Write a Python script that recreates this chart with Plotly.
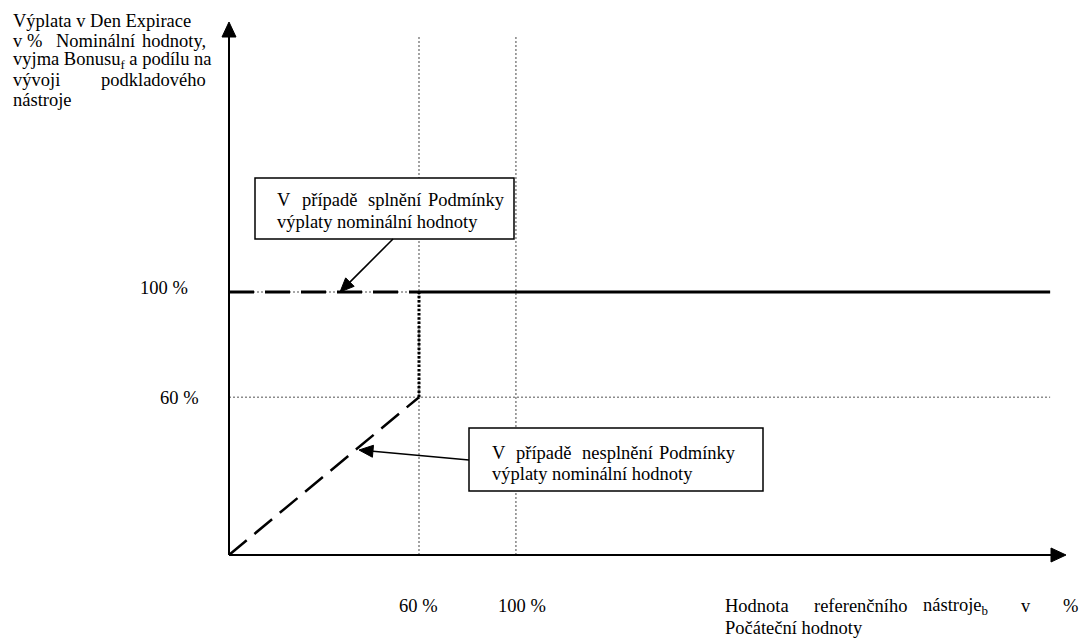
import math
import plotly.graph_objects as go

# ---- data (schematic units: x = position on underlying axis, y = payout in %) ----
y_levels = [60, 100]
y_tick_labels = ["60 %", "100 %"]
x_tick_pos = [60, 90.6]
x_tick_labels = ["60 %", "100 %"]

met_x = [0, 60]            # condition met: payout 100 % (dashed)
met_y = [100, 100]
flat_x = [60, 259.3]       # payout 100 % continuation (solid)
flat_y = [100, 100]
jump_x = [60, 60]          # jump from 60 % to 100 % (dotted)
jump_y = [60, 100]
notmet_x = [0, 60]         # condition not met: payout follows underlying (dashed)
notmet_y = [0, 60]

# ---- layout geometry (page pixels; the page body has an 8px margin) ----
PAGE_W, PAGE_H = 1091, 641
BODY = 8
W, H = PAGE_W - BODY, PAGE_H - BODY
OX, OY = 229, 555
SX = 190 / 60.0
SY = 263 / 100.0
FONT = "Liberation Serif"
FS = 18.5


def dx(px):
    return (px - OX) / SX


def dy(py):
    return (OY - py) / SY


fig = go.Figure()

grid = dict(color="#8c8c8c", width=1.6, dash="2px,2px")
top_grid = dy(35)
for xp in x_tick_pos:
    fig.add_trace(go.Scatter(x=[xp, xp], y=[0, top_grid], mode="lines", line=grid,
                             hoverinfo="skip", showlegend=False))
for yl in y_levels:
    fig.add_trace(go.Scatter(x=[0, flat_x[1]], y=[yl, yl], mode="lines", line=grid,
                             hoverinfo="skip", showlegend=False))

fig.add_trace(go.Scatter(x=met_x, y=met_y, mode="lines",
                         line=dict(color="black", width=3, dash="25px,11px"),
                         showlegend=False))
fig.add_trace(go.Scatter(x=flat_x, y=flat_y, mode="lines",
                         line=dict(color="black", width=3), showlegend=False))
fig.add_trace(go.Scatter(x=jump_x, y=jump_y, mode="lines",
                         line=dict(color="black", width=3, dash="2.5px,1.8px"),
                         showlegend=False))
fig.add_trace(go.Scatter(x=notmet_x, y=notmet_y, mode="lines",
                         line=dict(color="black", width=2.5, dash="23px,10px"),
                         showlegend=False))

shapes = []


def arrow(x0, y0, x1, y1, length=14, half=6, width=1.6):
    ang = math.atan2(y1 - y0, x1 - x0)
    bx, by = x1 - length * math.cos(ang), y1 - length * math.sin(ang)
    px, py = -math.sin(ang) * half, math.cos(ang) * half
    shapes.append(dict(type="line", x0=dx(x0), y0=dy(y0), x1=dx(bx), y1=dy(by),
                       line=dict(color="black", width=width)))
    shapes.append(dict(type="path",
                       path=(f"M {dx(bx + px)},{dy(by + py)} L {dx(bx - px)},{dy(by - py)} "
                             f"L {dx(x1)},{dy(y1)} Z"),
                       fillcolor="black", line=dict(color="black", width=1)))


# axes with arrowheads
arrow(OX, OY, OX, 22, length=15, half=7, width=2)
arrow(OX, OY, 1066, OY, length=15, half=7, width=2)

# boxes
shapes.append(dict(type="rect", x0=dx(255), y0=dy(178), x1=dx(514), y1=dy(239),
                   line=dict(color="black", width=1.5), fillcolor="white"))
shapes.append(dict(type="rect", x0=dx(469), y0=dy(428), x1=dx(763), y1=dy(491),
                   line=dict(color="black", width=1.5), fillcolor="white"))

# arrows from boxes to lines
arrow(393, 239, 340, 292)
arrow(469, 460, 359, 450)

ann = []


def txt(t, px, py, anchor="left"):
    ann.append(dict(text=t, x=dx(px), y=dy(py), xref="x", yref="y", showarrow=False,
                    xanchor=anchor, yanchor="middle",
                    font=dict(family=FONT, size=FS, color="black")))


# y axis title (justified lines split into pieces)
txt("Výplata v Den Expirace", 11, 21)
txt("v %", 11, 41)
txt("Nominální", 54, 41)
txt("hodnoty,", 208, 41, "right")
txt("vyjma Bonusu<sub>f</sub> a podílu na", 11, 60.5)
txt("vývoji", 11, 80)
txt("podkladového", 208, 80, "right")
txt("nástroje", 11, 99.5)

# y tick labels
txt(y_tick_labels[1], 190, 288, "right")
txt(y_tick_labels[0], 201, 398, "right")

# x tick labels
txt(x_tick_labels[0], 418, 606, "center")
txt(x_tick_labels[1], 522, 606, "center")

# x axis title
txt("Hodnota", 723, 606)
txt("referenčního", 812, 606)
txt("nástroje<sub>b</sub>", 921, 606)
txt("v", 1019, 606)
txt("%", 1080, 606, "right")
txt("Počáteční hodnoty", 723, 628)

# box 1
txt("V", 275, 200)
txt("případě", 300, 200)
txt("splnění", 366, 200)
txt("Podmínky", 507, 200, "right")
txt("výplaty nominální hodnoty", 275, 222)

# box 2
txt("V", 490, 453)
txt("případě", 514, 453)
txt("nesplnění", 580, 453)
txt("Podmínky", 738, 453, "right")
txt("výplaty nominální hodnoty", 490, 474)

# page pixel -> figure pixel offset (body margin)
x_lo = dx(BODY)
x_hi = dx(PAGE_W)
y_lo = dy(PAGE_H)
y_hi = dy(BODY)

fig.update_layout(
    width=W, height=H, autosize=False,
    margin=dict(l=0, r=0, t=0, b=0),
    paper_bgcolor="white", plot_bgcolor="white",
    xaxis=dict(range=[x_lo, x_hi], visible=False, fixedrange=True),
    yaxis=dict(range=[y_lo, y_hi], visible=False, fixedrange=True),
    shapes=shapes, annotations=ann, showlegend=False,
)

fig.write_html("out.html")
